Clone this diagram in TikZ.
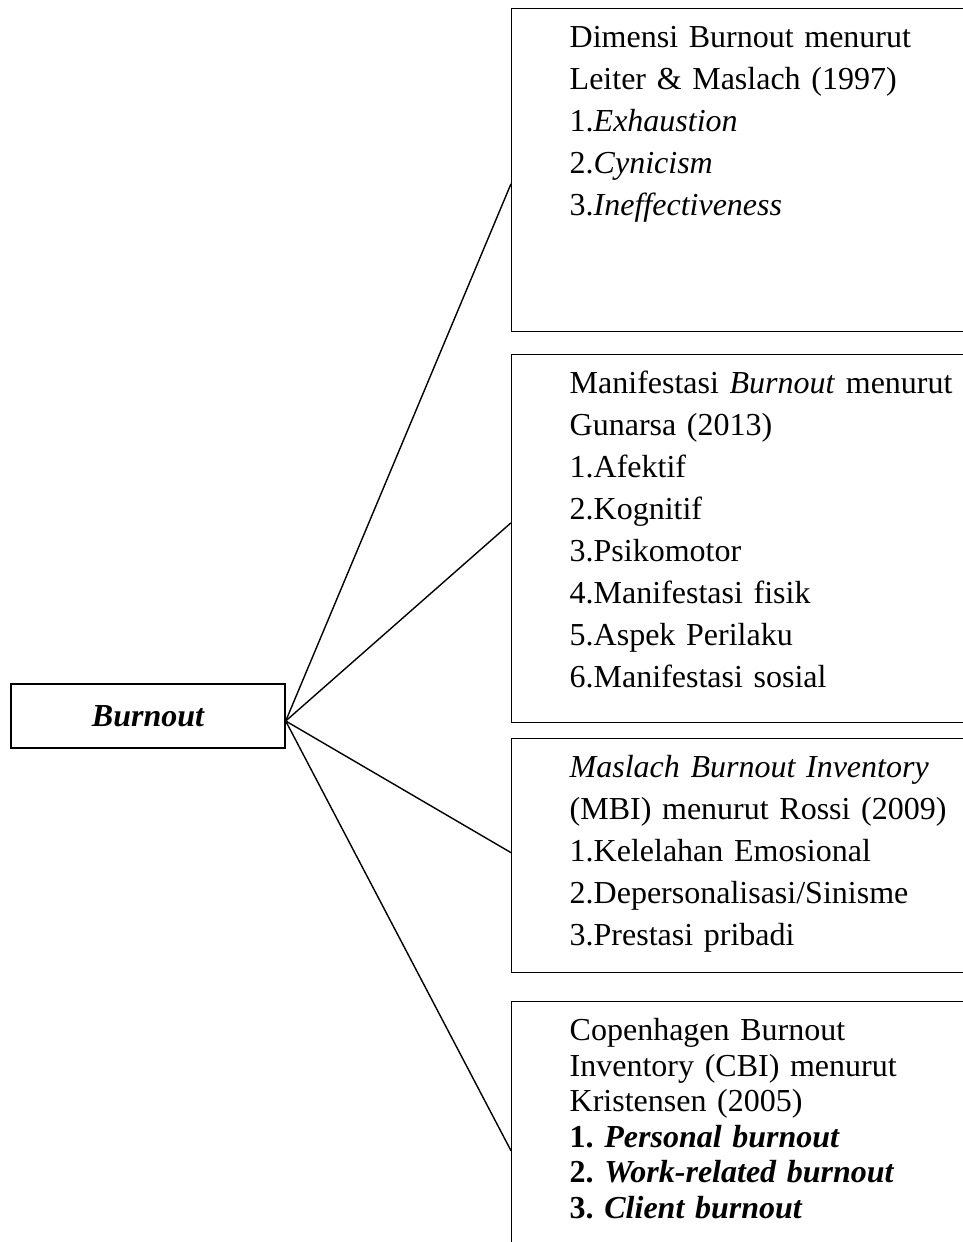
\documentclass[tikz,border=0pt]{standalone}
\usepackage{fontspec}
\setmainfont{Liberation Serif}
\usetikzlibrary{calc}
\frenchspacing

\begin{document}
\begin{tikzpicture}[x=1pt,y=-1pt,line width=1.4pt,
  every node/.style={font=\fontsize{32}{42}\selectfont},
  infobox/.style={draw,anchor=north west,align=left,text width=420pt,inner xsep=58pt,inner ysep=0pt,text height=39pt},
  rootbox/.style={draw,minimum width=274pt,minimum height=64pt,inner sep=0pt,font=\fontsize{32}{42}\selectfont\bfseries\itshape}]
  \useasboundingbox (0,0) rectangle (963,1242);
  \clip (0,0) rectangle (963,1242);
  \node[rootbox] (burnout) at (148,716) {Burnout};
  \node[infobox,text depth=284pt] (dimensi) at (511,8)
  {
    Dimensi Burnout menurut\\
    Leiter \& Maslach (1997)\\
    1.\textit{Exhaustion}\\
    2.\textit{Cynicism}\\
    3.\textit{Ineffectiveness}
  };
  \node[infobox,text depth=329pt] (manifestasi) at (511,354)
  {
    Manifestasi \textit{Burnout} menurut\\
    Gunarsa (2013)\\
    1.Afektif\\
    2.Kognitif\\
    3.Psikomotor\\
    4.Manifestasi fisik\\
    5.Aspek Perilaku\\
    6.Manifestasi sosial
  };
  \node[infobox,text depth=195pt] (mbi) at (511,738)
  {
    \textit{Maslach Burnout Inventory}\\
    (MBI) menurut Rossi (2009)\\
    1.Kelelahan Emosional\\
    2.Depersonalisasi/Sinisme\\
    3.Prestasi pribadi
  };
  \node[infobox,text depth=259pt,font=\fontsize{32}{35.5}\selectfont] (cbi) at (511,1001)
  {
    Copenhagen Burnout\\
    Inventory (CBI) menurut\\
    Kristensen (2005)\\
    \textbf{1. \textit{Personal burnout}}\\
    \textbf{2. \textit{Work-related burnout}}\\
    \textbf{3. \textit{Client burnout}}
  };
  \draw ([yshift=-5pt]burnout.east) -- ($(dimensi.north west)!0.542!(dimensi.south west)$);
  \draw ([yshift=-5pt]burnout.east) -- ($(manifestasi.north west)!0.457!(manifestasi.south west)$);
  \draw ([yshift=-5pt]burnout.east) -- ($(mbi.north west)!0.487!(mbi.south west)$);
  \draw ([yshift=-5pt]burnout.east) -- ($(cbi.north west)!0.5!(cbi.south west)$);
\end{tikzpicture}
\end{document}
